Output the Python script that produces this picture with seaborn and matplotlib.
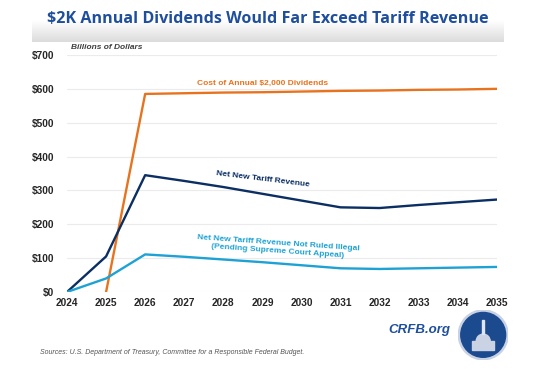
import seaborn as sns
import pandas as pd
import numpy as np
import matplotlib.pyplot as plt
from matplotlib.patches import Circle, Rectangle
from matplotlib.colors import LinearSegmentedColormap

# Data (billions of dollars)
years = list(range(2024, 2036))
dividends = [np.nan, 0, 585, 587, 589, 590, 592, 594, 595, 597, 598, 600]
tariff_rev = [0, 105, 345, 328, 310, 290, 270, 250, 248, 257, 265, 273]
tariff_legal = [0, 40, 111, 104, 96, 88, 79, 70, 68, 70, 72, 74]

df = pd.DataFrame({"year": years, "div": dividends, "rev": tariff_rev, "legal": tariff_legal})

sns.set_style("white")
plt.rcParams['font.family'] = ['Liberation Sans', 'DejaVu Sans']

fig = plt.figure(figsize=(5.36, 3.69), dpi=100)

# Title band: white at top fading to light gray at the bottom
band = fig.add_axes([0.06, 0.885, 0.88, 0.115])
cmap = LinearSegmentedColormap.from_list("band", ["#ffffff", "#ffffff", "#dcdcdc"])
grad = np.linspace(0, 1, 60).reshape(-1, 1)
band.imshow(grad, aspect='auto', cmap=cmap, extent=[0, 1, 0, 1], origin='upper')
band.axis('off')
fig.text(0.5, 0.948, "$2K Annual Dividends Would Far Exceed Tariff Revenue",
         ha='center', va='center', fontsize=11.6, fontweight='bold', color='#1f4f9c',
         family='Open Sans')

ax = fig.add_axes([0.125, 0.2087, 0.802, 0.6423])
sns.lineplot(data=df, x="year", y="div", ax=ax, color='#e8731f', linewidth=1.7)
sns.lineplot(data=df, x="year", y="rev", ax=ax, color='#0b2e63', linewidth=1.7)
sns.lineplot(data=df, x="year", y="legal", ax=ax, color='#1ea2d3', linewidth=1.7)

ax.set_xlim(2024, 2035)
ax.set_ylim(0, 700)
ax.set_yticks(range(0, 701, 100))
ax.set_yticklabels([f"${v}" for v in range(0, 701, 100)])
ax.set_xticks(years)
ax.tick_params(axis='x', labelsize=7.3, length=0, pad=4)
ax.tick_params(axis='y', labelsize=7.3, length=0, pad=9)
for lbl in ax.get_xticklabels() + ax.get_yticklabels():
    lbl.set_fontweight('bold')
ax.grid(axis='y', color='#ebebeb', linewidth=0.8)
ax.set_axisbelow(True)
for s in ax.spines.values():
    s.set_visible(False)
ax.set_xlabel("")
ax.set_ylabel("")

ax.text(2024.1, 712, "Billions of Dollars", fontsize=6, style='italic',
        fontweight='bold', color='#404040', va='bottom', clip_on=False)
ax.text(2029.0, 612, "Cost of Annual $2,000 Dividends", fontsize=6,
        fontweight='bold', color='#e8731f', ha='center')
ax.text(2029.0, 312, "Net New Tariff Revenue", fontsize=6, fontweight='bold',
        color='#0b2e63', ha='center', rotation=-7)
ax.text(2029.4, 133, "Net New Tariff Revenue Not Ruled Illegal\n(Pending Supreme Court Appeal)",
        fontsize=6, fontweight='bold', color='#1ea2d3', ha='center', va='center',
        rotation=-4, linespacing=1.1)

# Footer
fig.text(0.075, 0.046, "Sources: U.S. Department of Treasury, Committee for a Responsible Federal Budget.",
         fontsize=5, style='italic', color='#555555', va='center')
fig.text(0.84, 0.106, "CRFB.org", fontsize=9.5, style='italic', fontweight='bold',
         color='#1f4f9c', ha='right', va='center')
logo = fig.add_axes([0.855, 0.025, 0.093, 0.135])
logo.set_xlim(-1, 1)
logo.set_ylim(-1, 1)
logo.set_aspect('equal')
logo.add_patch(Circle((0, 0), 1, color='#c8d2e4'))
logo.add_patch(Circle((0, 0), 0.9, color='#1b4a8f'))
logo.add_patch(Rectangle((-0.45, -0.6), 0.9, 0.35, color='#c9d3e4'))
logo.add_patch(Circle((0, -0.25), 0.28, color='#c9d3e4'))
logo.add_patch(Rectangle((-0.03, 0.05), 0.06, 0.55, color='#dfe6f2'))
logo.axis('off')

fig.savefig("out.png", dpi=100)
